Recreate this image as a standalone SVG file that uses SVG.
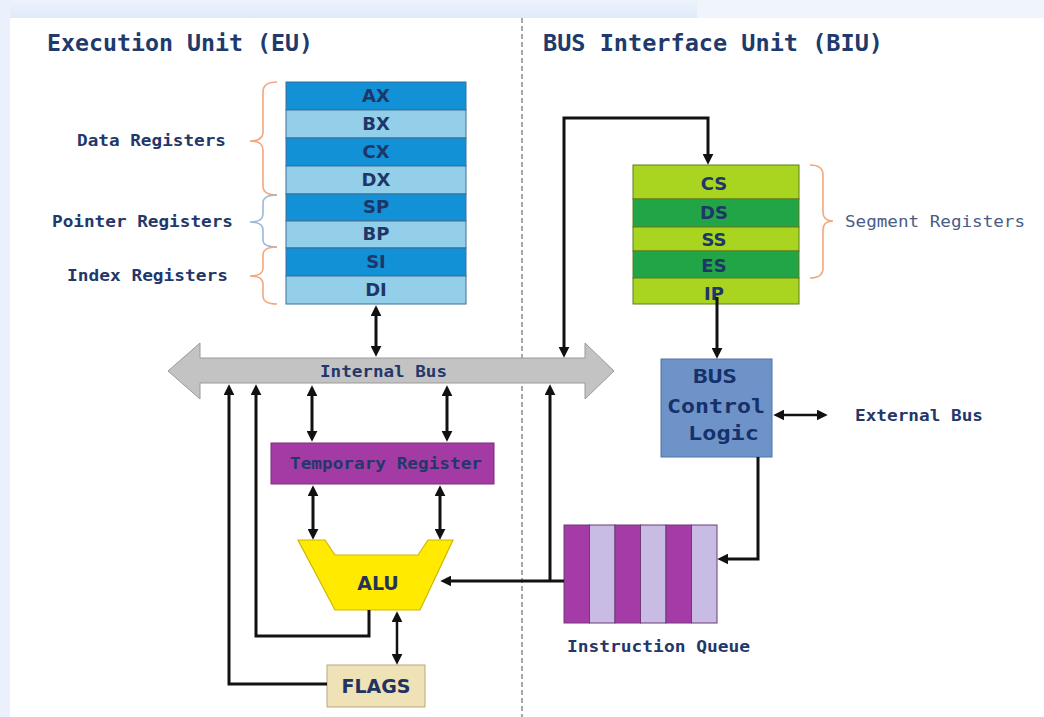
<svg xmlns="http://www.w3.org/2000/svg" width="1044" height="717" viewBox="0 0 1044 717">
  <defs>
    <linearGradient id="topBand" x1="0" y1="0" x2="0" y2="1">
      <stop offset="0" stop-color="#EDF3FC"/>
      <stop offset="1" stop-color="#DFEAF9"/>
    </linearGradient>
    <marker id="arr" viewBox="0 0 10 10" refX="3" refY="5" markerWidth="11" markerHeight="11" markerUnits="userSpaceOnUse" orient="auto-start-reverse">
      <path d="M0,0 L10,5 L0,10 z" fill="#111"/>
    </marker>
    <style>
      .title { font-family: "DejaVu Sans Mono", "Liberation Mono", monospace; font-weight: bold; font-size: 23px; fill: #203A6C; }
      .lbl { font-family: "DejaVu Sans Mono", "Liberation Mono", monospace; font-weight: bold; font-size: 15px; fill: #22376A; }
      .lbl-light { font-family: "DejaVu Sans Mono", "Liberation Mono", monospace; font-size: 15px; fill: #4A5C84; }
      .reg { font-family: "DejaVu Sans", "Liberation Sans", sans-serif; font-weight: bold; font-size: 18px; fill: #1E3668; text-anchor: middle; }
      .big { font-family: "DejaVu Sans", "Liberation Sans", sans-serif; font-weight: bold; font-size: 19px; fill: #23325E; text-anchor: middle; }
      .bcl { font-family: "DejaVu Sans Mono", "Liberation Mono", monospace; font-weight: bold; font-size: 20px; fill: #16306A; }
      .blue-dark { fill: #1391D6; stroke: #3F6E98; stroke-width: 1; }
      .blue-light { fill: #93CFE8; stroke: #3F6E98; stroke-width: 1; }
      .seg-light { fill: #A9D420; stroke: #5D7F1F; stroke-width: 1; }
      .seg-dark { fill: #22A547; stroke: #5D7F1F; stroke-width: 1; }
      .q-dark { fill: #A53BA6; stroke: #6E3A78; stroke-width: 1; }
      .q-light { fill: #C8BCE4; stroke: #6E3A78; stroke-width: 1; }
      .brace-o { fill: none; stroke: #F4A67C; stroke-width: 1.6; }
      .brace-b { fill: none; stroke: #9DB8D8; stroke-width: 1.6; }
      .wire { fill: none; stroke: #111; stroke-width: 3; }
      .wire-thin { fill: none; stroke: #111; stroke-width: 2.5; }
    </style>
  </defs>

  <!-- page background -->
  <rect x="0" y="0" width="1044" height="717" fill="#FFFFFF"/>
  <rect x="0" y="0" width="1044" height="18" fill="url(#topBand)"/>
  <rect x="697" y="0" width="347" height="18" fill="#F0F5FC"/>
  <rect x="0" y="0" width="10" height="717" fill="#EAF1FC"/>

  <!-- unit divider -->
  <line x1="522" y1="18" x2="522" y2="717" stroke="#8C8C8C" stroke-width="1.5" stroke-dasharray="5,3"/>

  <!-- headings -->
  <text class="title" x="47" y="51" textLength="266" lengthAdjust="spacingAndGlyphs">Execution Unit (EU)</text>
  <text class="title" x="543" y="51" textLength="340" lengthAdjust="spacingAndGlyphs">BUS Interface Unit (BIU)</text>

  <!-- general purpose registers -->
  <g id="general-registers">
    <rect class="blue-dark" x="286" y="82" width="180" height="28"/>
    <rect class="blue-light" x="286" y="110" width="180" height="28"/>
    <rect class="blue-dark" x="286" y="138" width="180" height="28"/>
    <rect class="blue-light" x="286" y="166" width="180" height="28"/>
    <rect class="blue-dark" x="286" y="194" width="180" height="27"/>
    <rect class="blue-light" x="286" y="221" width="180" height="27"/>
    <rect class="blue-dark" x="286" y="248" width="180" height="28"/>
    <rect class="blue-light" x="286" y="276" width="180" height="28"/>
    <text class="reg" x="376" y="102">AX</text>
    <text class="reg" x="376" y="130">BX</text>
    <text class="reg" x="376" y="158">CX</text>
    <text class="reg" x="376" y="186">DX</text>
    <text class="reg" x="376" y="213">SP</text>
    <text class="reg" x="376" y="240">BP</text>
    <text class="reg" x="376" y="268">SI</text>
    <text class="reg" x="376" y="296">DI</text>
  </g>

  <!-- register group braces and labels -->
  <g id="register-groups">
    <path class="brace-o" d="M277,82 Q263,82 263,92 L263,132 Q263,141 250,141 Q263,141 263,150 L263,186 Q263,195 277,195"/>
    <path class="brace-b" d="M277,195 Q263,195 263,203 L263,214 Q263,222 250,222 Q263,222 263,230 L263,240 Q263,247 277,247"/>
    <path class="brace-o" d="M277,247 Q263,247 263,255 L263,268 Q263,276 250,276 Q263,276 263,284 L263,296 Q263,304 277,304"/>
    <text class="lbl" x="77" y="146" textLength="149" lengthAdjust="spacingAndGlyphs">Data Registers</text>
    <text class="lbl" x="52" y="227" textLength="181" lengthAdjust="spacingAndGlyphs">Pointer Registers</text>
    <text class="lbl" x="67" y="281" textLength="161" lengthAdjust="spacingAndGlyphs">Index Registers</text>
  </g>

  <!-- segment registers -->
  <g id="segment-registers">
    <rect class="seg-light" x="633" y="165" width="166" height="34"/>
    <rect class="seg-dark" x="633" y="199" width="166" height="28"/>
    <rect class="seg-light" x="633" y="227" width="166" height="24"/>
    <rect class="seg-dark" x="633" y="251" width="166" height="27"/>
    <rect class="seg-light" x="633" y="278" width="166" height="26"/>
    <text class="reg" x="714" y="190">CS</text>
    <text class="reg" x="714" y="219">DS</text>
    <text class="reg" x="714" y="246">SS</text>
    <text class="reg" x="714" y="272">ES</text>
    <text class="reg" x="714" y="300">IP</text>
  </g>
  <g id="segment-group">
    <path class="brace-o" d="M810,165 Q823,165 823,175 L823,212 Q823,221 833,221 Q823,221 823,230 L823,268 Q823,278 810,278"/>
    <text class="lbl-light" x="845" y="227" textLength="180" lengthAdjust="spacingAndGlyphs">Segment Registers</text>
  </g>

  <!-- internal bus -->
  <g id="internal-bus">
    <path d="M168,371 L200,343 L200,358 L585,358 L585,343 L614,371 L585,399 L585,383 L200,383 L200,399 Z" fill="#C3C3C3" stroke="#9A9A9A" stroke-width="1"/>
    <text class="lbl" x="320" y="377" textLength="127" lengthAdjust="spacingAndGlyphs">Internal Bus</text>
  </g>

  <!-- temporary register -->
  <g id="temporary-register">
    <rect x="271" y="443" width="223" height="41" fill="#A43BA5" stroke="#7A2D7E" stroke-width="1"/>
    <text class="lbl" x="290" y="469" textLength="192" lengthAdjust="spacingAndGlyphs">Temporary Register</text>
  </g>

  <!-- ALU -->
  <g id="alu">
    <path d="M298,540 L325,540 L335,555 L418,555 L428,540 L453,540 L420,610 L335,610 Z" fill="#FFEA00" stroke="#CDB800" stroke-width="1.2"/>
    <text class="big" x="378" y="590">ALU</text>
  </g>

  <!-- flags -->
  <g id="flags">
    <rect x="327" y="665" width="98" height="42" fill="#EEE2B6" stroke="#B9A97A" stroke-width="1"/>
    <text class="big" x="376" y="693">FLAGS</text>
  </g>

  <!-- bus control logic -->
  <g id="bus-control-logic">
    <rect x="661" y="359" width="111" height="98" fill="#6E93C9" stroke="#4F72A6" stroke-width="1"/>
    <text class="bcl" x="693" y="383" textLength="44" lengthAdjust="spacingAndGlyphs">BUS</text>
    <text class="bcl" x="667" y="413" textLength="98" lengthAdjust="spacingAndGlyphs">Control</text>
    <text class="bcl" x="688" y="440" textLength="71" lengthAdjust="spacingAndGlyphs">Logic</text>
  </g>

  <!-- external bus label -->
  <g id="external-bus">
    <text class="lbl" x="855" y="421" textLength="128" lengthAdjust="spacingAndGlyphs">External Bus</text>
  </g>

  <!-- instruction queue -->
  <g id="instruction-queue">
    <rect class="q-dark" x="564" y="525" width="25.5" height="98"/>
    <rect class="q-light" x="589.5" y="525" width="25.5" height="98"/>
    <rect class="q-dark" x="615" y="525" width="25.5" height="98"/>
    <rect class="q-light" x="640.5" y="525" width="25.5" height="98"/>
    <rect class="q-dark" x="666" y="525" width="25.5" height="98"/>
    <rect class="q-light" x="691.5" y="525" width="25.5" height="98"/>
    <text class="lbl" x="567" y="652" textLength="183" lengthAdjust="spacingAndGlyphs">Instruction Queue</text>
  </g>

  <!-- connectors -->
  <g id="connectors">
    <!-- register file <-> internal bus -->
    <line class="wire" x1="376" y1="313" x2="376" y2="349" marker-start="url(#arr)" marker-end="url(#arr)"/>
    <!-- internal bus <-> code segment -->
    <path class="wire" d="M564,350 L564,118 L708,118 L708,157" marker-start="url(#arr)" marker-end="url(#arr)"/>
    <!-- IP -> bus control logic -->
    <line class="wire" x1="717" y1="297" x2="717" y2="351" marker-end="url(#arr)"/>
    <!-- bus control logic <-> external bus -->
    <line class="wire-thin" x1="781" y1="415" x2="820" y2="415" marker-start="url(#arr)" marker-end="url(#arr)"/>
    <!-- bus control logic -> instruction queue -->
    <path class="wire" d="M758,457 L758,559 L725,559" marker-end="url(#arr)"/>
    <!-- instruction queue -> ALU -->
    <path class="wire" d="M564,581 L448,581" marker-end="url(#arr)"/>
    <!-- instruction queue -> internal bus -->
    <path class="wire" d="M550,581 L550,392" marker-end="url(#arr)"/>
    <!-- internal bus <-> temporary register -->
    <line class="wire" x1="312" y1="393" x2="312" y2="434" marker-start="url(#arr)" marker-end="url(#arr)"/>
    <line class="wire" x1="447" y1="393" x2="447" y2="434" marker-start="url(#arr)" marker-end="url(#arr)"/>
    <!-- temporary register <-> ALU -->
    <line class="wire" x1="313" y1="493" x2="313" y2="532" marker-start="url(#arr)" marker-end="url(#arr)"/>
    <line class="wire" x1="440" y1="493" x2="440" y2="532" marker-start="url(#arr)" marker-end="url(#arr)"/>
    <!-- ALU result -> internal bus -->
    <path class="wire" d="M369,610 L369,636 L256,636 L256,392" marker-end="url(#arr)"/>
    <!-- ALU <-> flags -->
    <line class="wire-thin" x1="397" y1="619" x2="397" y2="657" marker-start="url(#arr)" marker-end="url(#arr)"/>
    <!-- flags -> internal bus -->
    <path class="wire" d="M327,684 L229,684 L229,392" marker-end="url(#arr)"/>
  </g>
</svg>
